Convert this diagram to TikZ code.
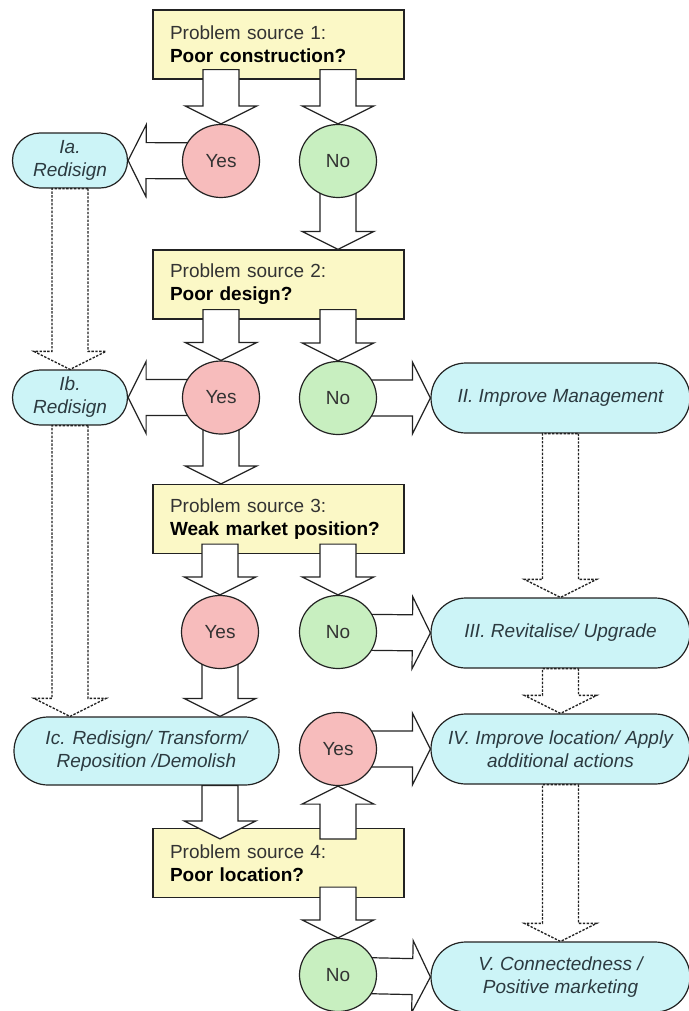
\documentclass[tikz,border=0pt]{standalone}
\usepackage{fontspec}
\setmainfont{Liberation Sans}
\usetikzlibrary{calc,shapes.geometric}
\pgfdeclarelayer{front}
\pgfsetlayers{main,front}

\definecolor{linecol}{HTML}{222222}
\definecolor{boxfill}{HTML}{FBF8C6}
\definecolor{yesfill}{HTML}{F7BCBC}
\definecolor{nofill}{HTML}{C8EFC0}
\definecolor{pillfill}{HTML}{CCF4F7}
\definecolor{textcol}{HTML}{333333}
\definecolor{pilltext}{HTML}{2C3A40}

% block arrow from #2 (start of the shaft) to #3 (tip)
\newcommand{\bigarrow}[3][]{%
  \coordinate (bs) at (#2);
  \coordinate (bt) at (#3);
  \coordinate (bh) at ($(bt)!13.5pt!(bs)$);
  \draw[arrowbody,#1] ($(bs)!13.5pt!90:(bt)$) -- ($(bh)!13.5pt!90:(bt)$) -- ($(bh)!27pt!90:(bt)$)
    -- (bt) -- ($(bh)!27pt!-90:(bt)$) -- ($(bh)!13.5pt!-90:(bt)$) -- ($(bs)!13.5pt!-90:(bt)$) -- cycle;
}

\begin{document}
\begin{tikzpicture}[x=0.75pt, y=-0.75pt,
  font=\fontsize{14.25pt}{17.25pt}\selectfont,
  arrowbody/.style={draw=linecol, line width=0.9pt, fill=white, line join=miter},
  dotarrow/.style={line width=1pt, dash pattern=on 1.8pt off 1.1pt}]
\useasboundingbox (0,0) rectangle (689,1011);

\coordinate (Q1) at (278.5,44.5);
\coordinate (Q2) at (278.5,284.5);
\coordinate (Q3) at (278.5,519);
\coordinate (Q4) at (278.5,863);

\coordinate (YA) at (221,161);
\coordinate (NA) at (338,161);
\coordinate (YB) at (221,397.5);
\coordinate (NB) at (338,398);
\coordinate (YC) at (220,632);
\coordinate (NC) at (338,632);
\coordinate (YD) at (338,749);
\coordinate (ND) at (338,975);

% questions
\begin{scope}[every node/.style={rectangle, draw=linecol, line width=0.9pt, fill=boxfill, text=textcol,
    text width=162.75pt, inner xsep=12.75pt, minimum height=51.75pt, align=left}]
\node (P1) at (Q1) {Problem source 1:\\\textbf{\color{black}Poor construction?}};
\node (P2) at (Q2) {Problem source 2:\\\textbf{\color{black}Poor design?}};
\node (P3) at (Q3) {Problem source 3:\\\textbf{\color{black}Weak market position?}};
\node (P4) at (Q4) {Problem source 4:\\\textbf{\color{black}Poor location?}};
\end{scope}

% actions
\begin{scope}[every node/.style={rectangle, draw=linecol, line width=0.9pt, fill=pillfill, text=pilltext,
    inner sep=0pt, align=center, font=\fontsize{14.25pt}{17.25pt}\selectfont\itshape}]
\node[minimum width=86.25pt, minimum height=41.25pt, rounded corners=20.6pt] (IA) at (70,160.5) {Ia.\\Redisign};
\node[minimum width=86.25pt, minimum height=41.25pt, rounded corners=20.6pt] (IB) at (70,397.5) {Ib.\\Redisign};
\node[minimum width=198.75pt, minimum height=51pt, rounded corners=25.5pt] (IC) at (146.5,751) {Ic. Redisign/ Transform/\\Reposition /Demolish};
\node[minimum width=194.25pt, minimum height=52.5pt, rounded corners=26.2pt] (II) at (560.5,398) {II. Improve Management};
\node[minimum width=194.25pt, minimum height=52.5pt, rounded corners=26.2pt] (III) at (560.5,633) {III. Revitalise/ Upgrade};
\node[minimum width=194.25pt, minimum height=52.5pt, rounded corners=26.2pt] (IV) at (560.5,749) {IV. Improve location/ Apply\\additional actions};
\node[minimum width=194.25pt, minimum height=52.5pt, rounded corners=26.2pt] (V) at (560.5,977) {V. Connectedness /\\Positive marketing};
\end{scope}

% answers
\begin{pgfonlayer}{front}
\begin{scope}[every node/.style={ellipse, draw=linecol, line width=0.9pt, fill=yesfill, text=textcol,
    inner sep=0pt, minimum width=57.75pt, minimum height=54.75pt}]
\node (Y1) at (YA) {Yes};
\node (Y2) at (YB) {Yes};
\node (Y3) at (YC) {Yes};
\node (Y4) at (YD) {Yes};
\end{scope}
\begin{scope}[every node/.style={ellipse, draw=linecol, line width=0.9pt, fill=nofill, text=textcol,
    inner sep=0pt, minimum width=57.75pt, minimum height=54.75pt}]
\node (N1) at (NA) {No};
\node (N2) at (NB) {No};
\node (N3) at (NC) {No};
\node (N4) at (ND) {No};
\end{scope}
\end{pgfonlayer}

\bigarrow{$(P1.south -| Y1)+(0,-10)$}{Y1.north}
\bigarrow{$(P1.south -| N1)+(0,-10)$}{N1.north}
\bigarrow{Y1.center}{IA.east}
\bigarrow{N1.center}{P2.north -| N1}

\bigarrow{$(P2.south -| Y2)+(0,-10)$}{Y2.north}
\bigarrow{$(P2.south -| N2)+(0,-10)$}{N2.north}
\bigarrow{Y2.center}{IB.east}
\bigarrow{N2.center}{II.west}
\bigarrow{Y2.center}{P3.north -| Y2}

\bigarrow{$(P3.south -| Y3)+(0,-10)$}{Y3.north}
\bigarrow{$(P3.south -| N3)+(0,-10)$}{N3.north}
\bigarrow{N3.center}{III.west}
\bigarrow{Y3.center}{IC.north -| Y3}

\bigarrow{IC.south -| Y3}{$(P4.north -| Y3)+(0,11)$}
\bigarrow{$(P4.north -| Y4)+(0,11)$}{Y4.south}
\bigarrow{Y4.center}{IV.west}
\bigarrow{$(P4.south -| N4)+(0,-11)$}{N4.north}
\bigarrow{N4.center}{V.west}

\bigarrow[dotarrow]{IA.south}{IB.north}
\bigarrow[dotarrow]{IB.south}{IC.north -| IB}
\bigarrow[dotarrow]{II.south}{III.north}
\bigarrow[dotarrow]{III.south}{IV.north}
\bigarrow[dotarrow]{IV.south}{V.north}

\end{tikzpicture}
\end{document}
